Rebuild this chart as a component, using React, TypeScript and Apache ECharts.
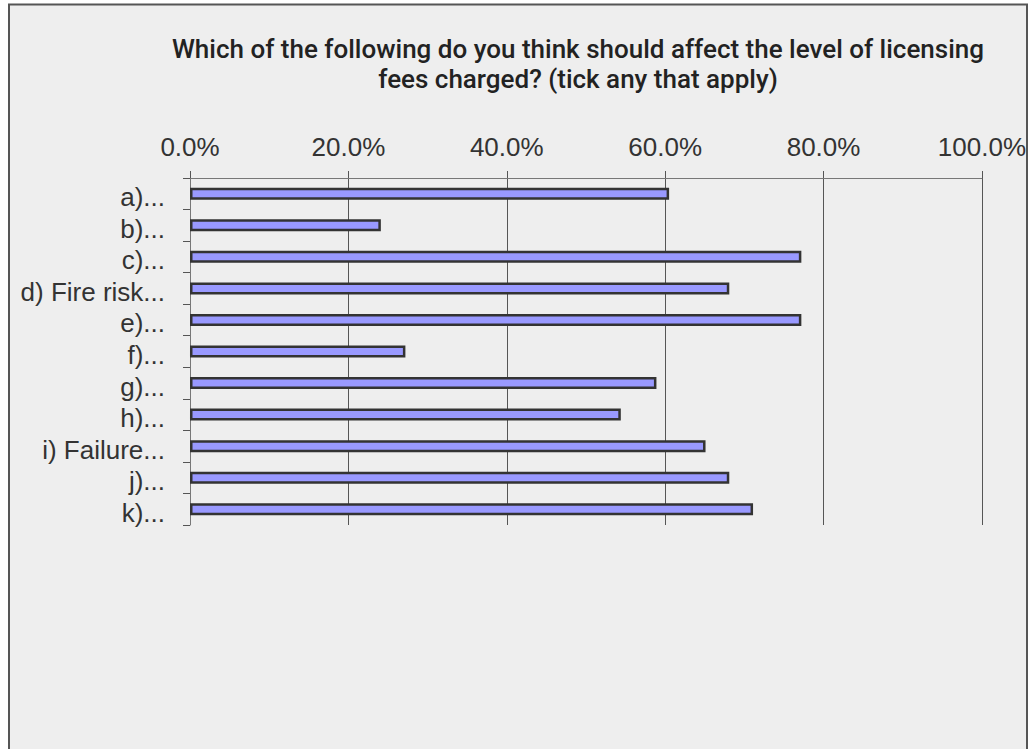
import React, { useEffect, useRef } from "react";
import * as echarts from "echarts";

const titleText =
  "Which of the following do you think should affect the level of licensing\nfees charged? (tick any that apply)";

const categories = [
  "a)...",
  "b)...",
  "c)...",
  "d) Fire risk...",
  "e)...",
  "f)...",
  "g)...",
  "h)...",
  "i) Failure...",
  "j)...",
  "k)...",
];

const values = [0.605, 0.241, 0.772, 0.681, 0.772, 0.272, 0.589, 0.544, 0.651, 0.681, 0.711];

const xTicks = { min: 0, max: 1, interval: 0.2 };

export default function App() {
  const ref = useRef<HTMLDivElement>(null);
  useEffect(() => {
    if (!ref.current) return;
    const chart = echarts.init(ref.current, null, { renderer: "svg" });
    chart.setOption({
      animation: false,
      backgroundColor: "#ffffff",
      textStyle: { fontFamily: "Liberation Sans, Arial, sans-serif" },
      graphic: [
        {
          type: "rect",
          z: -10,
          silent: true,
          shape: { x: 9, y: 4.5, width: 1018, height: 800 },
          style: { fill: "#eeeeee", stroke: "#555555", lineWidth: 2 },
        },
      ],
      title: {
        text: titleText,
        left: 573,
        top: 29,
        textAlign: "center",
        textStyle: {
          fontFamily: "Roboto, Liberation Sans, Arial, sans-serif",
          fontSize: 26,
          fontWeight: 500,
          color: "#222222",
          lineHeight: 30,
        },
      },
      grid: { left: 190, right: 47, top: 178, bottom: 224, containLabel: false },
      xAxis: {
        type: "value",
        position: "top",
        min: xTicks.min,
        max: xTicks.max,
        interval: xTicks.interval,
        axisLine: { show: true, lineStyle: { color: "#777777", width: 1 } },
        axisTick: { show: true, length: 7, lineStyle: { color: "#555555" } },
        splitLine: { show: true, lineStyle: { color: "#555555", width: 1 } },
        axisLabel: {
          margin: 18,
          fontSize: 26,
          color: "#333333",
          fontFamily: "Liberation Sans, Arial, sans-serif",
          formatter: (v: number) => (v * 100).toFixed(1) + "%",
        },
      },
      yAxis: {
        type: "category",
        inverse: true,
        data: categories,
        axisLine: { show: true, lineStyle: { color: "#777777", width: 1 } },
        axisTick: { show: true, length: 7, lineStyle: { color: "#555555" } },
        axisLabel: {
          interval: 0,
          margin: 25,
          formatter: (v: string) => "{t|" + v + "}",
          rich: {
            t: {
              fontSize: 26,
              color: "#333333",
              fontFamily: "Liberation Sans, Arial, sans-serif",
              padding: [7, 0, 0, 0],
            },
          },
        },
      },
      series: [
        {
          type: "bar",
          data: values,
          barWidth: 12,
          itemStyle: { color: "#9999ff", borderColor: "#333333", borderWidth: 2.5 },
        },
      ],
    });
    return () => chart.dispose();
  }, []);
  return (
    <div
      ref={ref}
      style={{ position: "absolute", left: 0, top: 0, width: 1029, height: 749 }}
    />
  );
}
